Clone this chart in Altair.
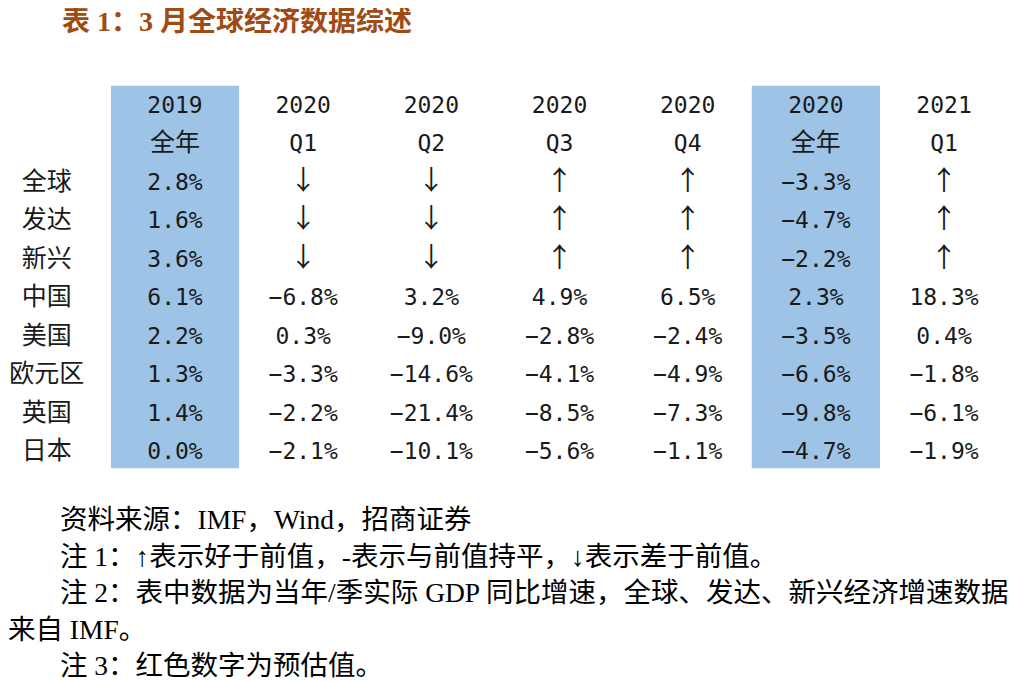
import altair as alt
import pandas as pd

TITLE = "表 1：3 月全球经济数据综述"
ROW_LABELS = ["全球", "发达", "新兴", "中国", "美国", "欧元区", "英国", "日本"]
COL_YEARS = ["2019", "2020", "2020", "2020", "2020", "2020", "2021"]
COL_PERIODS = ["全年", "Q1", "Q2", "Q3", "Q4", "全年", "Q1"]
HIGHLIGHT = [True, False, False, False, False, True, False]

V_2019_FY = [2.8, 1.6, 3.6, 6.1, 2.2, 1.3, 1.4, 0.0]
V_2020_Q1 = ["↓", "↓", "↓", -6.8, 0.3, -3.3, -2.2, -2.1]
V_2020_Q2 = ["↓", "↓", "↓", 3.2, -9.0, -14.6, -21.4, -10.1]
V_2020_Q3 = ["↑", "↑", "↑", 4.9, -2.8, -4.1, -8.5, -5.6]
V_2020_Q4 = ["↑", "↑", "↑", 6.5, -2.4, -4.9, -7.3, -1.1]
V_2020_FY = [-3.3, -4.7, -2.2, 2.3, -3.5, -6.6, -9.8, -4.7]
V_2021_Q1 = ["↑", "↑", "↑", 18.3, 0.4, -1.8, -6.1, -1.9]
COLUMNS = [V_2019_FY, V_2020_Q1, V_2020_Q2, V_2020_Q3, V_2020_Q4, V_2020_FY, V_2021_Q1]

FOOTNOTES = [
    "资料来源：IMF，Wind，招商证券",
    "注 1：↑表示好于前值，-表示与前值持平，↓表示差于前值。",
    "注 2：表中数据为当年/季实际 GDP 同比增速，全球、发达、新兴经济增速数据",
    "来自 IMF。",
    "注 3：红色数字为预估值。",
]
FOOTNOTE_INDENT = [2, 2, 2, 0, 2]  # paragraph indent, in characters

def is_cjk(s):
    return any("\u4e00" <= ch <= "\u9fff" for ch in s)

cells = []
for ci, (yr, per) in enumerate(zip(COL_YEARS, COL_PERIODS)):
    i = ci + 1
    cells.append({"i": i, "j": 0, "text": yr, "kind": "mono"})
    cells.append({"i": i, "j": 1, "text": per, "kind": "cjk" if is_cjk(per) else "mono"})
    for ri, v in enumerate(COLUMNS[ci]):
        if isinstance(v, str):
            cells.append({"i": i, "j": ri + 2, "text": v, "kind": "arrow"})
        else:
            t = f"{v:.1f}%".replace("-", "\u2212")
            cells.append({"i": i, "j": ri + 2, "text": t, "kind": "mono"})
for ri, lab in enumerate(ROW_LABELS):
    cells.append({"i": 0, "j": ri + 2, "text": lab, "kind": "cjk"})
cells_df = pd.DataFrame(cells)

hl_df = pd.DataFrame({"i": [ci + 1 for ci, h in enumerate(HIGHLIGHT) if h]})
foot_df = pd.DataFrame({"line": list(range(len(FOOTNOTES))), "text": FOOTNOTES,
                        "indent": FOOTNOTE_INDENT})
title_df = pd.DataFrame({"text": [TITLE]})

W, H = 1005, 673
xs = alt.Scale(domain=[-0.303, 7.538], nice=False, zero=False)
ys = alt.Scale(domain=[-2.5234, 14.984], nice=False, zero=False, reverse=True)
TXT = "#1a1a1a"

rect = alt.Chart(hl_df).transform_calculate(
    x0="datum.i - 0.5", x1="datum.i + 0.5", y0="-0.5", y1="9.45"
).mark_rect(color="#9DC3E6").encode(
    x=alt.X("x0:Q", scale=xs, axis=None), x2="x1:Q",
    y=alt.Y("y0:Q", scale=ys, axis=None), y2="y1:Q",
)

def text_layer(kind, font, size, dy=0):
    return alt.Chart(cells_df).transform_filter(
        alt.datum.kind == kind
    ).mark_text(font=font, fontSize=size, color=TXT, align="center", baseline="middle", dy=dy).encode(
        x=alt.X("i:Q", scale=xs, axis=None),
        y=alt.Y("j:Q", scale=ys, axis=None),
        text="text:N",
    )

mono = text_layer("mono", "DejaVu Sans Mono", 23, 1)
cjk = text_layer("cjk", "Noto Sans CJK SC", 25, 0)
arrow = text_layer("arrow", "Noto Sans CJK SC", 27, 0)

title = alt.Chart(title_df).mark_text(
    font="Liberation Serif, Noto Sans CJK SC", fontSize=28, fontWeight="bold",
    color="#A04A14", align="left", baseline="middle",
).encode(x=alt.value(54), y=alt.value(15), text="text:N")

foot = alt.Chart(foot_df).mark_text(
    font="Liberation Serif, Noto Sans CJK SC", fontSize=27.5, color="#000000",
    align="left", baseline="middle",
).encode(
    x=alt.X("indent:Q", scale=alt.Scale(domain=[0, 2], range=[0, 52]), axis=None),
    y=alt.Y("line:Q", scale=alt.Scale(domain=[0, 4], range=[513, 659]), axis=None),
    text="text:N",
)

chart = alt.layer(rect, mono, cjk, arrow, title, foot).resolve_scale(
    x="independent", y="independent"
).properties(
    width=W, height=H, autosize=alt.AutoSizeParams(type="none"), padding=0,
    background="white",
).configure_view(stroke=None)

chart.save("out.html", embed_options={"renderer": "svg", "actions": False})
